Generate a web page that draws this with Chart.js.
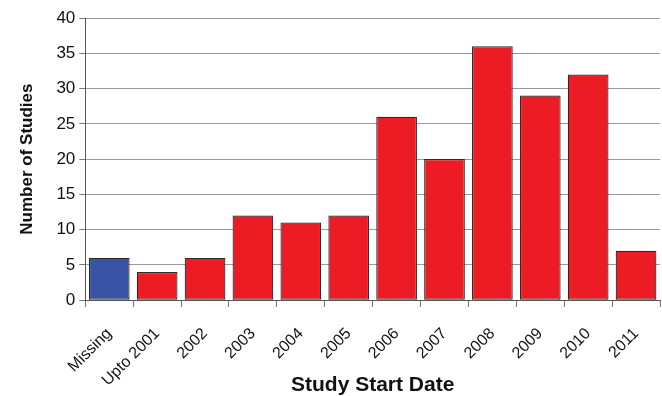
<!DOCTYPE html>
<html>
<head>
<meta charset="utf-8">
<script src="https://cdn.jsdelivr.net/npm/chart.js@4"></script>
<style>
  html, body { margin: 0; padding: 0; background: #fff; }
  #wrap { width: 662px; height: 396px; }
</style>
</head>
<body>
<div id="wrap"><canvas id="c" width="662" height="396"></canvas></div>
<script>
const categories = ['Missing', 'Upto 2001', '2002', '2003', '2004', '2005', '2006', '2007', '2008', '2009', '2010', '2011'];
const studyCounts = [6, 4, 6, 12, 11, 12, 26, 20, 36, 29, 32, 7];
const barColors = ['#3953a4', '#ed1c24', '#ed1c24', '#ed1c24', '#ed1c24', '#ed1c24', '#ed1c24', '#ed1c24', '#ed1c24', '#ed1c24', '#ed1c24', '#ed1c24'];
const yTicks = [0, 5, 10, 15, 20, 25, 30, 35, 40];

const FONT = '"Liberation Sans", Arial, sans-serif';

new Chart(document.getElementById('c'), {
  type: 'bar',
  data: {
    labels: categories,
    datasets: [{
      data: studyCounts,
      backgroundColor: barColors,
      borderColor: '#2a2a2a',
      borderWidth: 1.2,
      borderSkipped: false,
      barPercentage: 0.85,
      categoryPercentage: 1.0
    }]
  },
  options: {
    responsive: false,
    animation: false,
    devicePixelRatio: 1,
    layout: { autoPadding: false, padding: { top: 18, right: 2, left: 17, bottom: 0 } },
    plugins: { legend: { display: false }, tooltip: { enabled: false } },
    scales: {
      x: {
        offset: true,
        grid: {
          offset: true,
          drawOnChartArea: true,
          color: (ctx) => ctx.index === categories.length ? '#9a9a9a' : 'rgba(0,0,0,0)',
          tickColor: '#777',
          // long tick slot keeps the labels clear of the axis; the dash shows only a short mark
          tickLength: 21,
          tickBorderDash: [6, 60]
        },
        border: { color: '#555', width: 1 },
        ticks: {
          color: '#111',
          font: { family: FONT, size: 16 },
          maxRotation: 45,
          minRotation: 45,
          autoSkip: false,
          padding: 3
        },
        title: {
          display: true,
          text: 'Study Start Date',
          color: '#111',
          font: { family: FONT, size: 21, weight: 'bold', lineHeight: 1 },
          padding: { top: -18, bottom: 0 }
        }
      },
      y: {
        min: 0,
        max: 40,
        afterBuildTicks: (axis) => { axis.ticks = yTicks.map(v => ({ value: v })); },
        grid: {
          color: '#9a9a9a',
          tickColor: '#777',
          tickLength: 6
        },
        border: { color: '#555', width: 1 },
        ticks: {
          color: '#111',
          font: { family: FONT, size: 17 },
          padding: 4
        },
        title: {
          display: true,
          text: 'Number of Studies',
          color: '#111',
          font: { family: FONT, size: 17, weight: 'bold' },
          padding: { top: 0, bottom: 15 }
        }
      }
    }
  }
});
</script>
</body>
</html>
